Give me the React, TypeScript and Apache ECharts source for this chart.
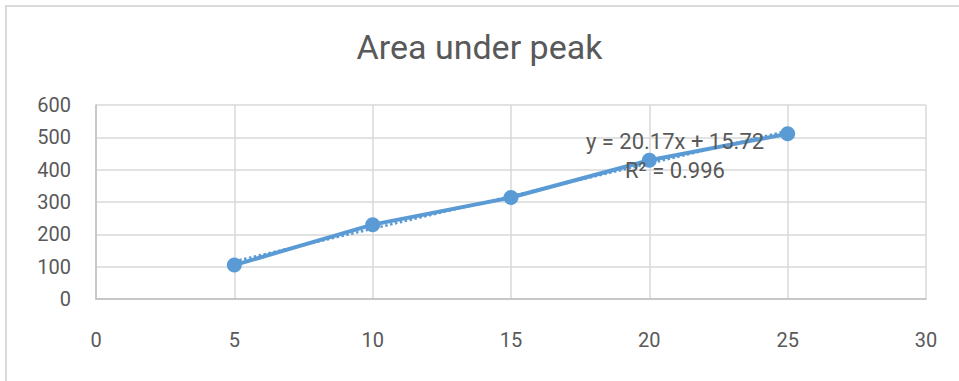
import React, { useEffect, useRef } from "react";
import * as echarts from "echarts";

// Calibration data: concentration vs. integrated peak area
const xValues = [5, 10, 15, 20, 25];
const areaValues = [105, 230, 314, 429, 511];

// Linear fit reported on the chart
const slope = 20.17;
const intercept = 15.72;
const rSquared = 0.996;

const xTicks = [0, 5, 10, 15, 20, 25, 30];
const yTicks = [0, 100, 200, 300, 400, 500, 600];

const BLUE = "#5B9BD5";
const TEXT = "#595959";
const GRID = "#D9D9D9";
const FONT = "Roboto, 'Noto Sans', sans-serif";

export default function App() {
  const ref = useRef<HTMLDivElement>(null);

  useEffect(() => {
    if (!ref.current) return;
    const chart = echarts.init(ref.current, undefined, { renderer: "svg" });

    const points = xValues.map((x, i) => [x, areaValues[i]]);
    const fitX = [xValues[0], xValues[xValues.length - 1]];
    const fitLine = fitX.map((x) => [x, slope * x + intercept]);

    chart.setOption({
      animation: false,
      backgroundColor: "#fff",
      textStyle: { fontFamily: FONT },
      title: {
        text: "Area under peak",
        left: "center",
        top: 25,
        textStyle: { fontFamily: FONT, fontSize: 34, fontWeight: "normal", color: TEXT },
      },
      grid: { left: 96, right: 33, top: 105, bottom: 82 },
      xAxis: {
        type: "value",
        min: xTicks[0],
        max: xTicks[xTicks.length - 1],
        interval: 5,
        axisLine: { show: true, lineStyle: { color: "#BFBFBF", width: 1.5 } },
        axisTick: { show: false },
        axisLabel: { color: TEXT, fontSize: 20, margin: 31, fontFamily: FONT },
        splitLine: { show: true, lineStyle: { color: GRID, width: 1.5 } },
      },
      yAxis: {
        type: "value",
        min: yTicks[0],
        max: yTicks[yTicks.length - 1],
        interval: 100,
        axisLine: { show: true, lineStyle: { color: "#BFBFBF", width: 1.5 } },
        axisTick: { show: false },
        axisLabel: { color: TEXT, fontSize: 20, margin: 25, fontFamily: FONT },
        splitLine: { show: true, lineStyle: { color: GRID, width: 1.5 } },
      },
      series: [
        {
          name: "Area",
          type: "line",
          data: points,
          symbol: "circle",
          symbolSize: 15,
          itemStyle: { color: BLUE },
          lineStyle: { color: BLUE, width: 4 },
          z: 2,
        },
        {
          name: "Linear fit",
          type: "line",
          data: fitLine,
          symbol: "none",
          lineStyle: { color: BLUE, width: 2.5, type: "dotted" },
          z: 3,
        },
      ],
      graphic: [
        {
          type: "rect",
          shape: { x: 6, y: 6, width: 1200, height: 1200 },
          style: { fill: "none", stroke: GRID, lineWidth: 2 },
          silent: true,
        },
        {
          type: "text",
          x: 675,
          y: 141,
          z: 10,
          style: {
            text: `y = ${slope.toFixed(2)}x + ${intercept.toFixed(2)}`,
            fill: TEXT,
            font: `22px ${FONT}`,
            textAlign: "center",
            textVerticalAlign: "middle",
          },
        },
        {
          type: "text",
          x: 675,
          y: 170,
          z: 10,
          style: {
            text: `R² = ${rSquared.toFixed(3)}`,
            fill: TEXT,
            font: `22px ${FONT}`,
            textAlign: "center",
            textVerticalAlign: "middle",
          },
        },
      ],
    });

    return () => chart.dispose();
  }, []);

  return (
    <div
      ref={ref}
      style={{ position: "fixed", left: 0, top: 0, width: 959, height: 381 }}
    />
  );
}
